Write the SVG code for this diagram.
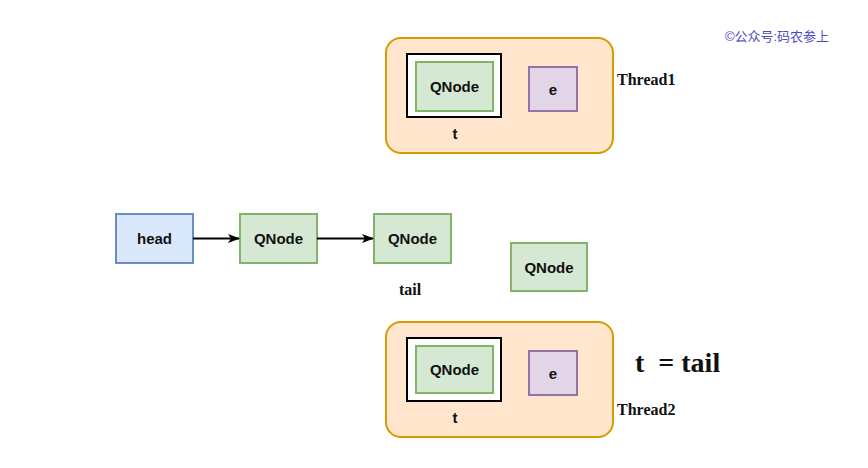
<svg xmlns="http://www.w3.org/2000/svg" width="868" height="468" viewBox="0 0 868 468">
<style>
.thread{fill:#ffe6cc;stroke:#d79b00;stroke-width:2}
.green{fill:#d5e8d4;stroke:#82b366;stroke-width:2}
.blue{fill:#dae8fc;stroke:#6c8ebf;stroke-width:2}
.purple{fill:#e1d5e7;stroke:#9673a6;stroke-width:2}
.frame{fill:#ffffff;stroke:#000000;stroke-width:2}
.lbl{font-family:"Liberation Sans",Arial,sans-serif;font-weight:bold;font-size:15px;fill:#111;text-anchor:middle;dominant-baseline:central}
.ser{font-family:"Liberation Serif","Times New Roman",serif;font-weight:bold;fill:#111}
.conn{stroke:#000;stroke-width:2;fill:none}
</style>
<defs>
<marker id="arr" markerWidth="12" markerHeight="9" refX="11" refY="4.5" orient="auto" markerUnits="userSpaceOnUse">
<path d="M0,0 L12,4.5 L0,9 L3,4.5 Z" fill="#000"/>
</marker>
</defs>
<rect width="868" height="468" fill="#ffffff"/>
<text x="777" y="41" text-anchor="middle" font-family="'Liberation Sans','Noto Sans CJK SC',sans-serif" font-size="13" fill="#4b4bc4">©公众号:码农参上</text>

<g id="thread1">
<rect class="thread" x="386" y="38" width="227" height="115" rx="15"/>
<rect class="frame" x="407" y="54" width="94" height="63"/>
<rect class="green" x="416" y="62" width="77" height="49"/>
<text class="lbl" x="454.5" y="86.5">QNode</text>
<rect class="purple" x="529" y="67" width="48" height="44"/>
<text class="lbl" x="553" y="89">e</text>
<text class="lbl" x="455" y="133">t</text>
<text class="ser" x="617" y="85" font-size="16">Thread1</text>
</g>

<g id="head">
<rect class="blue" x="116" y="214" width="77" height="49"/>
<text class="lbl" x="154.5" y="238.5">head</text>
</g>
<g id="qnode1">
<rect class="green" x="240" y="214" width="77" height="49"/>
<text class="lbl" x="278.5" y="238.5">QNode</text>
</g>
<g id="qnode2">
<rect class="green" x="374" y="214" width="77" height="49"/>
<text class="lbl" x="412.5" y="238.5">QNode</text>
<text class="ser" x="410" y="295" font-size="16" text-anchor="middle">tail</text>
</g>
<g id="qnode3">
<rect class="green" x="511" y="243" width="76" height="48"/>
<text class="lbl" x="549" y="267">QNode</text>
</g>

<g id="connectors">
<line class="conn" x1="193" y1="238.5" x2="239" y2="238.5" marker-end="url(#arr)"/>
<line class="conn" x1="317" y1="238.5" x2="373" y2="238.5" marker-end="url(#arr)"/>
</g>

<g id="thread2">
<rect class="thread" x="386" y="322" width="227" height="115" rx="15"/>
<rect class="frame" x="407" y="338" width="94" height="63"/>
<rect class="green" x="416" y="346" width="77" height="47"/>
<text class="lbl" x="454.5" y="369.5">QNode</text>
<rect class="purple" x="529" y="351" width="48" height="44"/>
<text class="lbl" x="553" y="373">e</text>
<text class="lbl" x="455" y="417">t</text>
<text class="ser" x="617" y="415" font-size="16">Thread2</text>
</g>
<text class="ser" x="635" y="372" font-size="28" xml:space="preserve">t  = tail</text>
</svg>
